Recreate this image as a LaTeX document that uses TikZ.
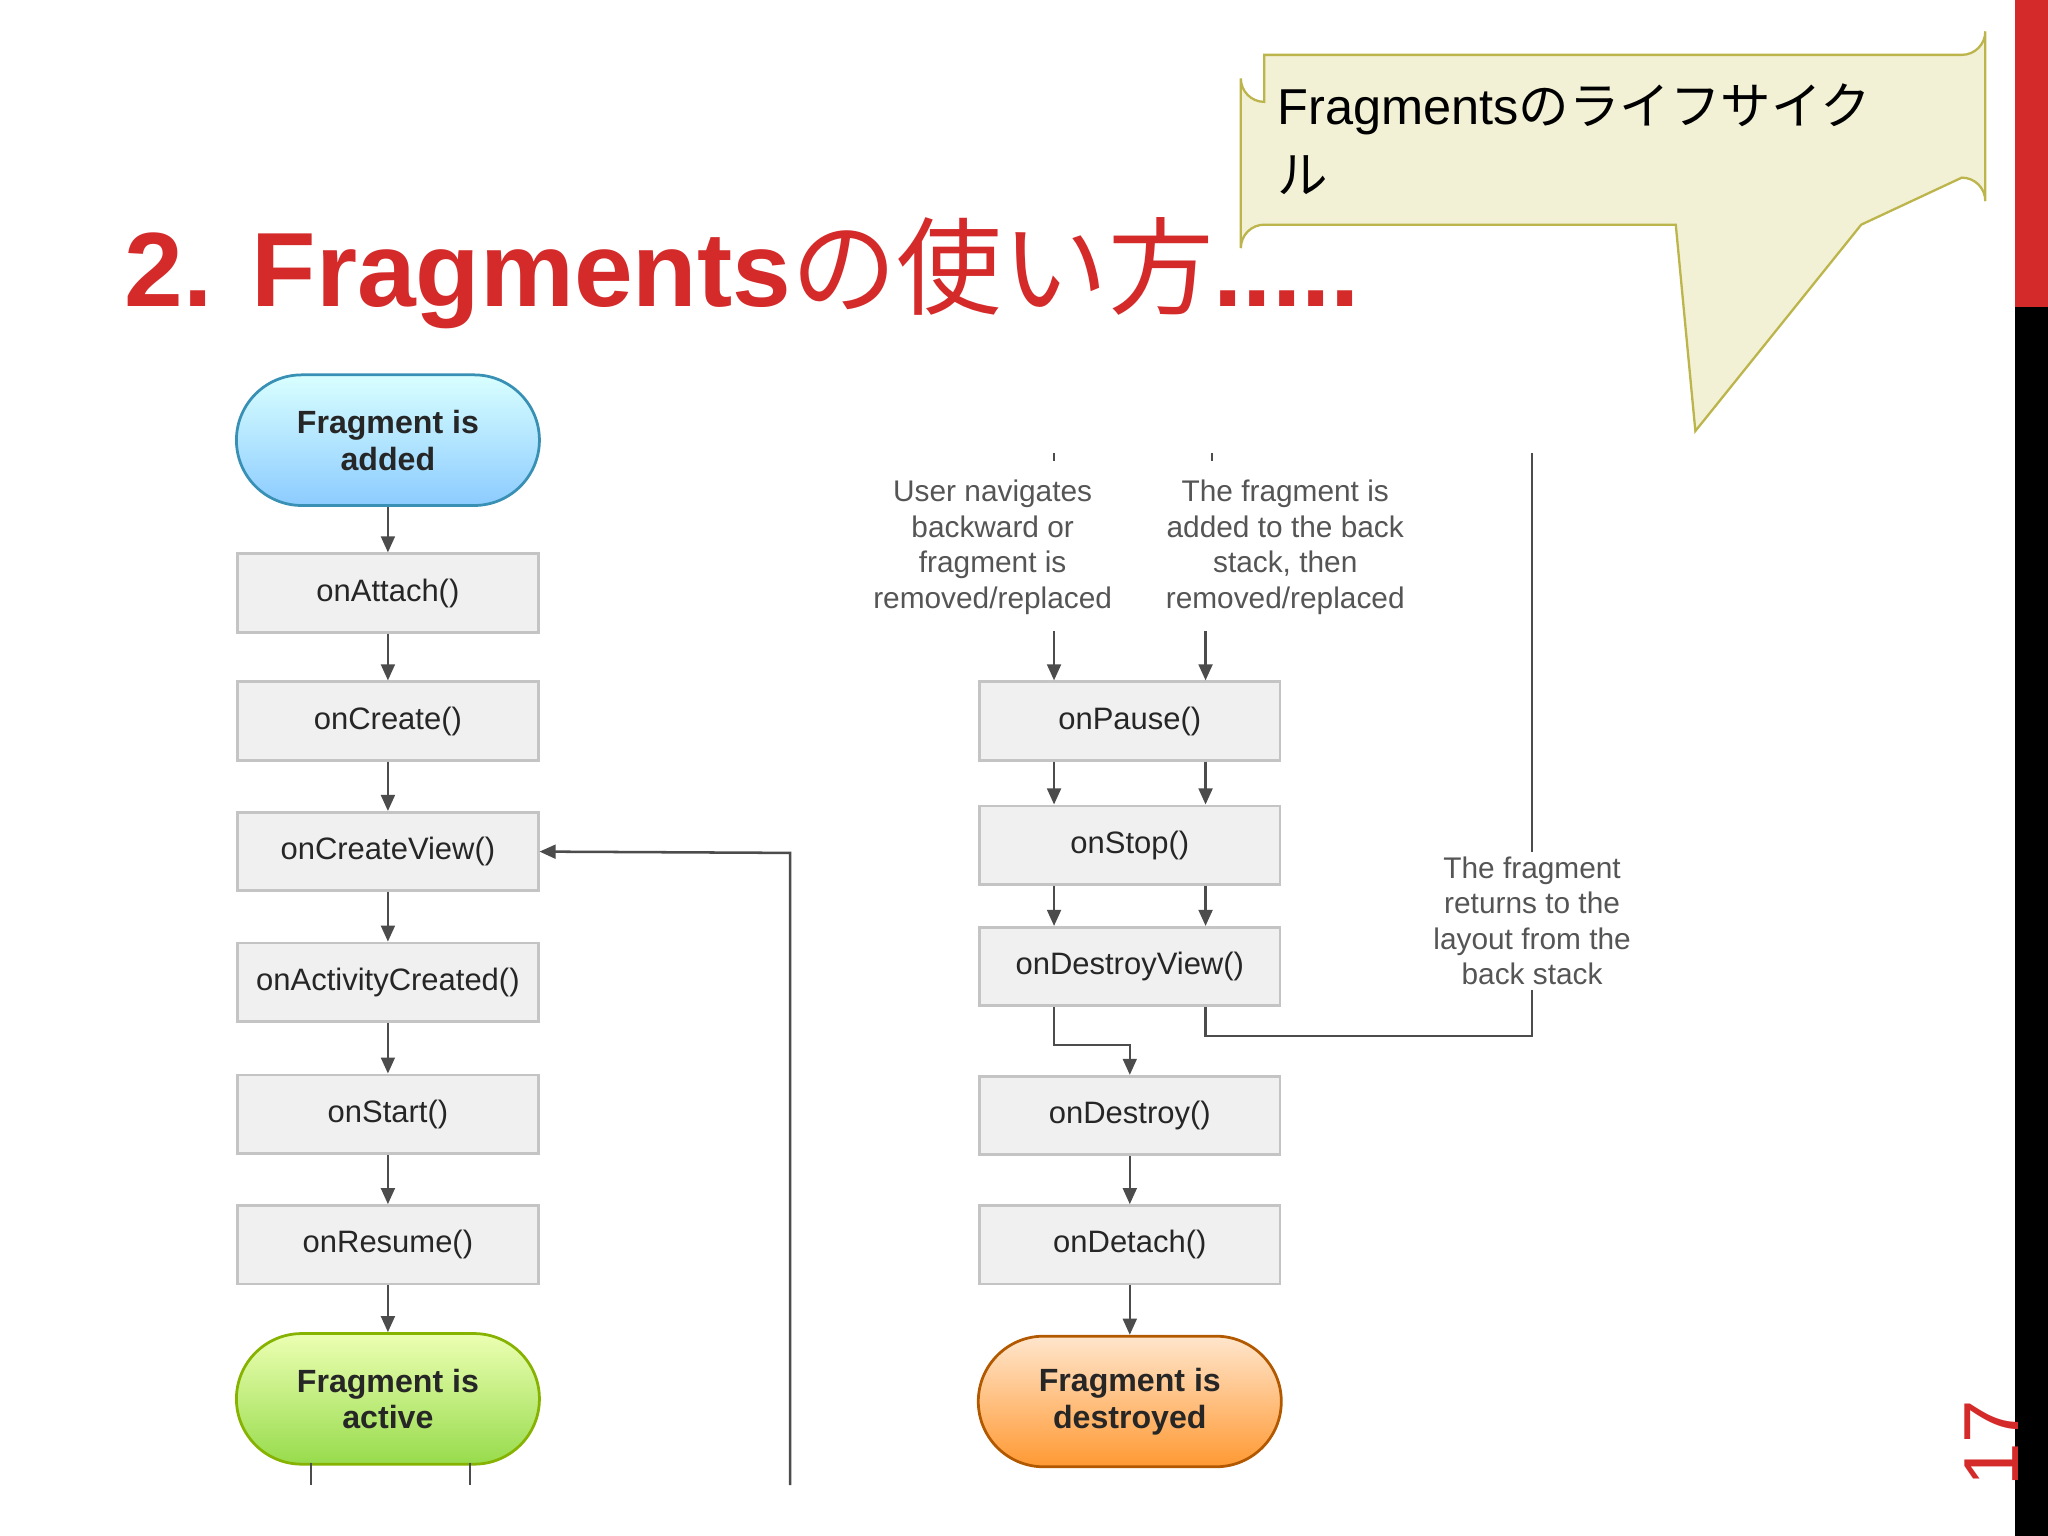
\documentclass[tikz,border=0pt]{standalone}
\usepackage{fontspec}
\setmainfont{Liberation Sans}
\newfontfamily\cjk{Noto Sans CJK JP}
\usetikzlibrary{arrows.meta,positioning}
\definecolor{boxf}{HTML}{F0F0F0}
\definecolor{boxd}{HTML}{C4C4C4}
\definecolor{ttl}{HTML}{D42A2A}
\definecolor{lbl}{HTML}{555555}
\begin{document}
\begin{tikzpicture}[x=0.02cm,y=-0.02cm,
  box/.style={draw=boxd,fill=boxf,line width=1.2pt,minimum width=230*0.02cm,minimum height=60*0.02cm,font=\fontsize{13.5}{16}\selectfont,text=black!85},
  pill/.style={draw=#1!70!black,line width=1.2pt,rounded corners=50*0.02cm,minimum width=232*0.02cm,minimum height=100*0.02cm,font=\fontsize{14}{16}\selectfont\bfseries,align=center,text=black!85},
  ar/.style={-{Triangle[length=7pt,width=6pt]},draw=black!70,line width=1.1pt},
  ln/.style={draw=black!70,line width=1.1pt},
  lab/.style={font=\fontsize{13}{15.5}\selectfont,text=lbl,align=center}]
\useasboundingbox (0,0) rectangle (1568,1176);
\fill[white] (0,0) rectangle (1568,1176);
% side bar
\fill[ttl] (1543,0) rectangle (1568,235);
\fill[black] (1543,235) rectangle (1568,1176);
\node[rotate=90,text=ttl,font=\fontsize{34}{34}\selectfont] (pg) at (1525,1105) {17};
% title
\node[anchor=base west,inner sep=0,text=ttl,font=\fontsize{46}{46}\selectfont\bfseries] (title) at (95,235) {2. Fragments{\cjk\mdseries の使い方}.....};
% callout
\draw[draw=olive!60!white,fill=olive!12!white,line width=1pt]
  (968,42) -- (1502,42) arc[start angle=90,end angle=0,radius=18] -- (1520,154) arc[start angle=0,end angle=-90,radius=18]
  -- (1425,172) -- (1298,330) -- (1283,172) -- (968,172) arc[start angle=-90,end angle=-180,radius=18] -- (950,60) arc[start angle=180,end angle=90,radius=18] -- cycle;
\node[anchor=north west,align=left,font=\fontsize{22}{30}\selectfont,text width=520*0.02cm] (call) at (972,58) {Fragments{\cjk のライフサイク}\\{\cjk ル}};
% left column
\node[pill=cyan,top color=cyan!15!white,bottom color=cyan!55!blue!45!white] (add) at (297,337) {Fragment is\\added};
\node[box] (att) at (297,454) {onAttach()};
\node[box] (cre) at (297,552) {onCreate()};
\node[box] (crv) at (297,652) {onCreateView()};
\node[box] (act) at (297,752) {onActivityCreated()};
\node[box] (sta) at (297,853) {onStart()};
\node[box] (res) at (297,953) {onResume()};
\node[pill=lime,top color=lime!30!white,bottom color=lime!70!green!80!black!70] (actv) at (297,1071) {Fragment is\\active};
\foreach \a/\b in {add/att,att/cre,cre/crv,crv/act,act/sta,sta/res,res/actv} \draw[ar] (\a) -- (\b);
\coordinate (l1) at (238,1137); \coordinate (l2) at (360,1137);
\draw[ln] (238,1120) -- (l1); \draw[ln] (360,1120) -- (l2);
\coordinate (rb) at (605,1137);
\draw[ar] (rb) -- (605,653) -- (crv.east);
% right column
\node[box] (pau) at (865,552) {onPause()};
\node[box] (sto) at (865,647) {onStop()};
\node[box] (dv) at (865,740) {onDestroyView()};
\node[box] (des) at (865,854) {onDestroy()};
\node[box] (det) at (865,953) {onDetach()};
\node[pill=orange,top color=orange!20!white,bottom color=orange!80!white] (dst) at (865,1073) {Fragment is\\destroyed};
\node[lab] (u1) at (760,419) {User navigates\\backward or\\fragment is\\removed/replaced};
\node[lab] (u2) at (984,419) {The fragment is\\added to the back\\stack, then\\removed/replaced};
\coordinate (xa) at (807,0); \coordinate (xb) at (923,0);
\draw[ln] (807,347) -- (807,353); \draw[ln] (928,347) -- (928,353);
\draw[ar] (807,483) -- (xa|-pau.north);
\draw[ar] (923,483) -- (xb|-pau.north);
\draw[ar] (xa|-pau.south) -- (xa|-sto.north);
\draw[ar] (xb|-pau.south) -- (xb|-sto.north);
\draw[ar] (xa|-sto.south) -- (xa|-dv.north);
\draw[ar] (xb|-sto.south) -- (xb|-dv.north);
\draw[ar] (xa|-dv.south) -- (807,800) -- (865,800) -- (des.north);
\draw[ln] (xb|-dv.south) -- (923,793) -- (1173,793) -- (1173,347);
\node[lab,fill=white,inner sep=2pt] (ret) at (1173,705) {The fragment\\returns to the\\layout from the\\back stack};
\draw[ar] (des) -- (det);
\draw[ar] (det) -- (dst);
\end{tikzpicture}
\end{document}
